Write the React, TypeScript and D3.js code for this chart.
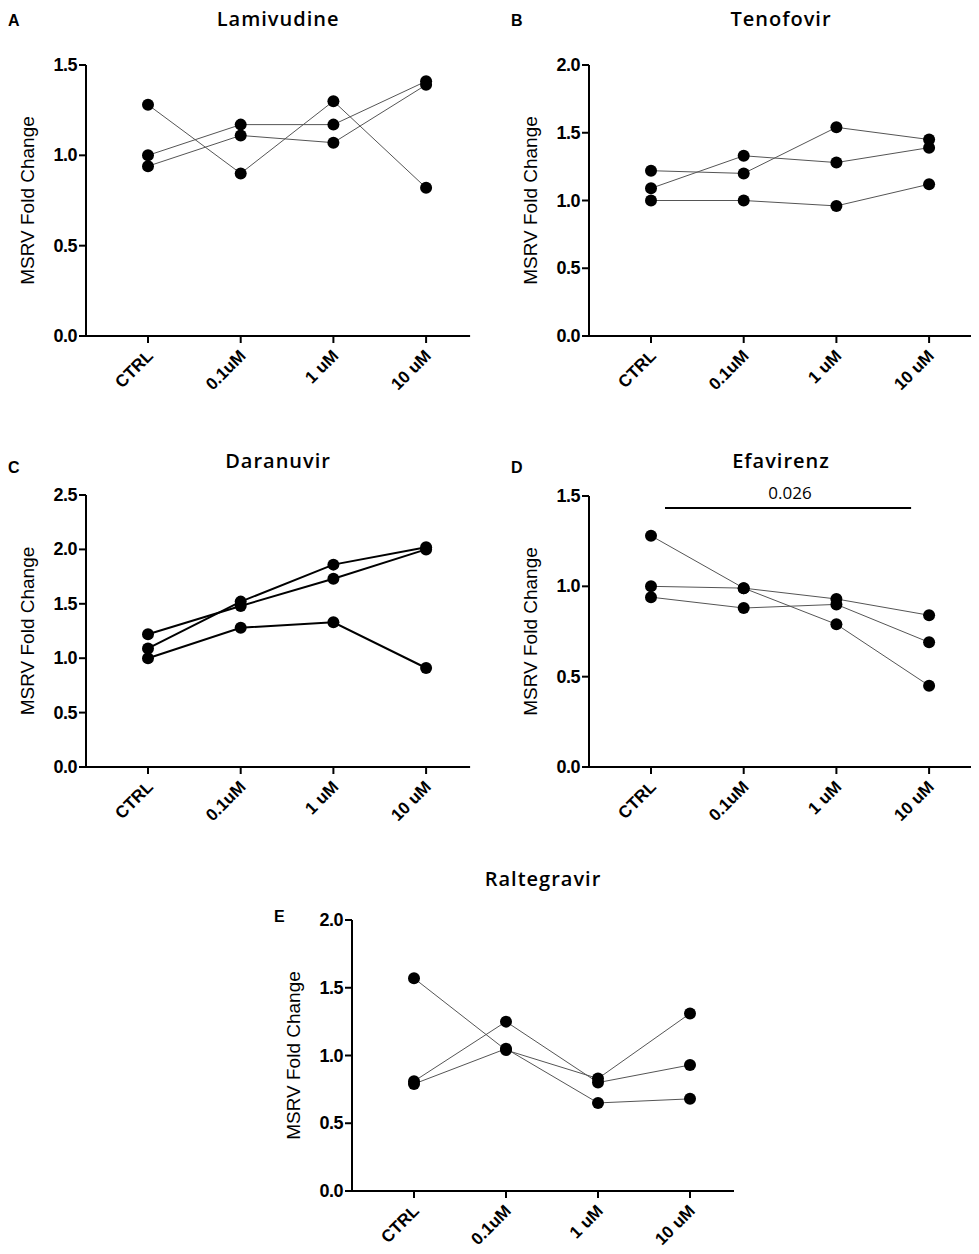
import React from 'react';
import * as d3 from 'd3';

const categories = ['CTRL', '0.1uM', '1 uM', '10 uM'];

const lamivudine = [
  [1.28, 0.9, 1.3, 0.82],
  [1.0, 1.17, 1.17, 1.41],
  [0.94, 1.11, 1.07, 1.39],
];
const tenofovir = [
  [1.22, 1.2, 1.54, 1.45],
  [1.09, 1.33, 1.28, 1.39],
  [1.0, 1.0, 0.96, 1.12],
];
const daranuvir = [
  [1.22, 1.48, 1.73, 2.0],
  [1.09, 1.52, 1.86, 2.02],
  [1.0, 1.28, 1.33, 0.91],
];
const efavirenz = [
  [1.28, 0.99, 0.79, 0.45],
  [1.0, 0.99, 0.93, 0.84],
  [0.94, 0.88, 0.9, 0.69],
];
const raltegravir = [
  [1.57, 1.04, 0.83, 1.31],
  [0.81, 1.25, 0.8, 0.93],
  [0.79, 1.05, 0.65, 0.68],
];

type PanelProps = {
  letter: string;
  title: string;
  series: number[][];
  yMax: number;
  yTicks: number[];
  ox: number; // x of y-axis
  top: number; // y of yMax
  bottom: number; // y of zero
  x0: number; // first category
  step: number;
  lineWidth: number;
  letterX: number;
  letterY: number;
  titleY: number;
  sig?: { label: string; y: number };
};

const Panel: React.FC<PanelProps> = (p) => {
  const y = d3.scaleLinear().domain([0, p.yMax]).range([p.bottom, p.top]);
  const x = d3.scalePoint<string>().domain(categories).range([p.x0, p.x0 + 3 * p.step]);
  const xEnd = p.x0 + 3 * p.step + 44;
  const line = d3.line<number>().x((_, i) => x(categories[i])!).y((d) => y(d));
  const font = 'Liberation Sans, Arial, sans-serif';
  return (
    <g fontFamily={font}>
      <text x={p.letterX} y={p.letterY} fontSize={16} fontWeight="bold">{p.letter}</text>
      <text x={(p.ox + xEnd) / 2} y={p.titleY} fontSize={20} fontWeight="600" letterSpacing={1} textAnchor="middle" fontFamily="Open Sans, sans-serif">{p.title}</text>
      <line x1={p.ox} x2={p.ox} y1={p.top} y2={p.bottom} stroke="#000" strokeWidth={2} />
      <line x1={p.ox} x2={xEnd} y1={p.bottom} y2={p.bottom} stroke="#000" strokeWidth={2} />
      {p.yTicks.map((t) => (
        <g key={t}>
          <line x1={p.ox - 7} x2={p.ox} y1={y(t)} y2={y(t)} stroke="#000" strokeWidth={2} />
          <text x={p.ox - 9} y={y(t) + 6} fontSize={18} fontWeight="bold" letterSpacing={-0.5} textAnchor="end">{t.toFixed(1)}</text>
        </g>
      ))}
      {categories.map((c) => (
        <g key={c}>
          <line x1={x(c)} x2={x(c)} y1={p.bottom} y2={p.bottom + 7} stroke="#000" strokeWidth={2} />
          <text transform={`translate(${x(c)! + 6},${p.bottom + 21}) rotate(-45)`} fontSize={17} fontWeight="bold" textAnchor="end">{c}</text>
        </g>
      ))}
      <text transform={`translate(${p.ox - 52},${(p.top + p.bottom) / 2}) rotate(-90)`} fontSize={19} textAnchor="middle">MSRV Fold Change</text>
      {p.series.map((s, i) => (
        <path key={i} d={line(s)!} fill="none" stroke={p.lineWidth > 1.5 ? '#000' : '#555'} strokeWidth={p.lineWidth} />
      ))}
      {p.series.map((s, i) =>
        s.map((v, j) => <circle key={`${i}-${j}`} cx={x(categories[j])} cy={y(v)} r={6} fill="#000" />)
      )}
      {p.sig && (
        <g>
          <line x1={x(categories[0])! + 14} x2={x(categories[3])! - 18} y1={p.sig.y} y2={p.sig.y} stroke="#000" strokeWidth={2} />
          <text x={(x(categories[0])! + x(categories[3])!) / 2} y={p.sig.y - 9} fontSize={17} textAnchor="middle" fontFamily="Open Sans, sans-serif">{p.sig.label}</text>
        </g>
      )}
    </g>
  );
};

export default function App() {
  return (
    <svg width={979} height={1254} style={{ display: 'block', margin: -8 }}>
      <rect width={979} height={1254} fill="#fff" />
      <Panel letter="A" title="Lamivudine" series={lamivudine} yMax={1.5} yTicks={[0, 0.5, 1, 1.5]}
        ox={86} top={65} bottom={336} x0={148} step={92.7} lineWidth={1} letterX={8} letterY={26} titleY={26} />
      <Panel letter="B" title="Tenofovir" series={tenofovir} yMax={2} yTicks={[0, 0.5, 1, 1.5, 2]}
        ox={589} top={65} bottom={336} x0={651} step={92.7} lineWidth={1} letterX={511} letterY={26} titleY={26} />
      <Panel letter="C" title="Daranuvir" series={daranuvir} yMax={2.5} yTicks={[0, 0.5, 1, 1.5, 2, 2.5]}
        ox={86} top={495} bottom={767} x0={148} step={92.7} lineWidth={2} letterX={8} letterY={473} titleY={468} />
      <Panel letter="D" title="Efavirenz" series={efavirenz} yMax={1.5} yTicks={[0, 0.5, 1, 1.5]}
        ox={589} top={496} bottom={767} x0={651} step={92.7} lineWidth={1} letterX={511} letterY={473} titleY={468}
        sig={{ label: '0.026', y: 508 }} />
      <Panel letter="E" title="Raltegravir" series={raltegravir} yMax={2} yTicks={[0, 0.5, 1, 1.5, 2]}
        ox={352} top={920} bottom={1191} x0={414} step={92} lineWidth={1} letterX={274} letterY={922} titleY={886} />
    </svg>
  );
}
